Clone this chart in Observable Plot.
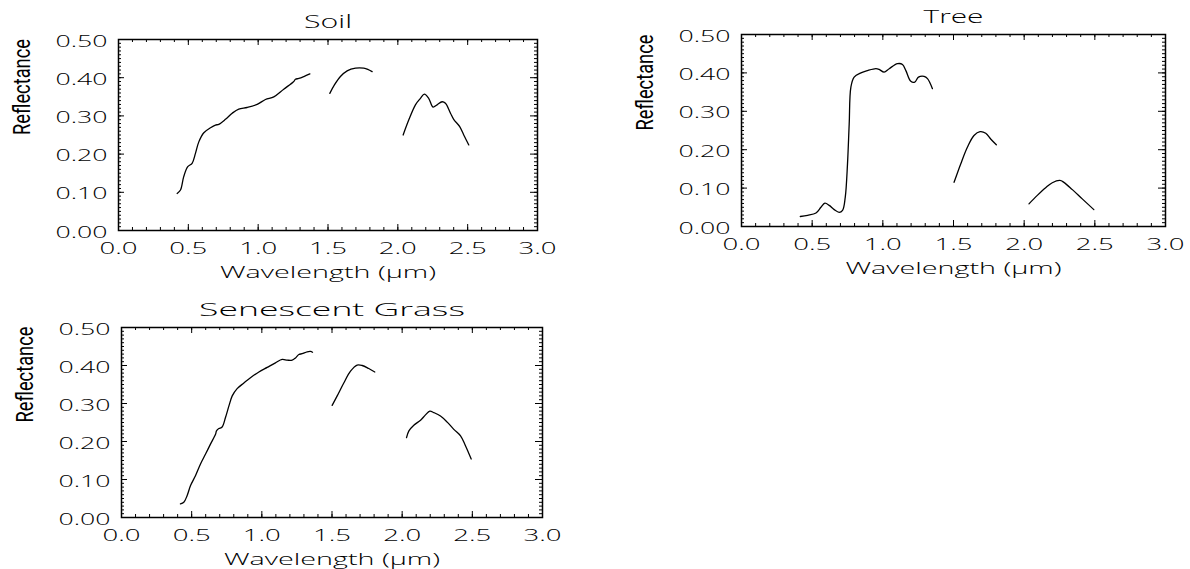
<!DOCTYPE html>
<html><head><meta charset="utf-8">
<script src="https://cdn.jsdelivr.net/npm/d3@7"></script>
<script src="https://cdn.jsdelivr.net/npm/@observablehq/plot@0.6"></script>
<style>
body{margin:0;background:#fff;width:1190px;height:569px;position:relative;overflow:hidden;}
.panel{position:absolute;}
</style></head><body>
<div id="soil" class="panel" style="left:0;top:0"></div>
<div id="tree" class="panel" style="left:600px;top:0"></div>
<div id="grass" class="panel" style="left:0;top:290px"></div>
<script>
// Tick values
const xTicks = [0, 0.5, 1.0, 1.5, 2.0, 2.5, 3.0];
const yTicks = [0, 0.1, 0.2, 0.3, 0.4, 0.5];
const xLabel = "Wavelength (μm)";
const yLabel = "Reflectance";

// Soil
const soilWave = [0.420,0.444,0.467,0.496,0.527,0.551,0.575,0.611,0.659,0.694,0.718,0.766,0.814,0.861,0.921,0.993,1.052,1.112,1.183,1.255,1.267,1.291,1.327,1.370,
  1.513,1.546,1.589,1.637,1.697,1.756,1.785,1.816,
  2.038,2.078,2.126,2.162,2.190,2.221,2.252,2.281,2.317,2.341,2.377,2.400,2.443,2.472,2.508];
const soilRefl = [0.097,0.106,0.141,0.167,0.176,0.202,0.232,0.256,0.269,0.276,0.278,0.291,0.307,0.318,0.322,0.330,0.343,0.350,0.370,0.390,0.396,0.398,0.403,0.410,
  0.359,0.381,0.403,0.418,0.425,0.425,0.422,0.416,
  0.250,0.289,0.329,0.346,0.357,0.346,0.323,0.329,0.337,0.333,0.307,0.291,0.272,0.250,0.224];
const soilBand = [...Array(24).fill("a"), ...Array(8).fill("b"), ...Array(15).fill("c")];

// Tree
const treeWave = [0.416,0.468,0.527,0.562,0.590,0.621,0.656,0.691,0.715,0.734,0.750,0.762,0.774,0.797,0.845,0.892,0.951,0.974,1.009,1.045,1.104,1.139,1.163,1.198,1.226,1.252,1.292,1.316,1.351,
  1.504,1.551,1.599,1.645,1.688,1.728,1.763,1.803,
  2.034,2.093,2.152,2.199,2.253,2.281,2.341,2.411,2.493];
const treeRefl = [0.026,0.029,0.035,0.050,0.061,0.055,0.044,0.037,0.042,0.076,0.163,0.267,0.363,0.389,0.400,0.406,0.411,0.409,0.402,0.411,0.424,0.422,0.406,0.378,0.376,0.389,0.391,0.385,0.359,
  0.115,0.163,0.207,0.237,0.247,0.243,0.228,0.213,
  0.059,0.081,0.101,0.114,0.120,0.115,0.096,0.072,0.044];
const treeBand = [...Array(29).fill("a"), ...Array(8).fill("b"), ...Array(9).fill("c")];

// Senescent grass
const grassWave = [0.420,0.444,0.468,0.492,0.527,0.563,0.599,0.634,0.670,0.677,0.694,0.717,0.741,0.765,0.789,0.824,0.872,0.919,0.979,1.038,1.097,1.145,1.181,1.216,1.240,1.264,1.287,1.323,1.347,1.361,
  1.501,1.537,1.584,1.632,1.679,1.715,1.762,1.805,
  2.031,2.048,2.083,2.131,2.166,2.197,2.226,2.273,2.321,2.368,2.416,2.451,2.492];
const grassRefl = [0.036,0.040,0.058,0.084,0.110,0.141,0.167,0.193,0.219,0.228,0.234,0.238,0.263,0.293,0.320,0.339,0.354,0.368,0.383,0.395,0.407,0.416,0.414,0.414,0.420,0.429,0.431,0.436,0.437,0.435,
  0.295,0.320,0.354,0.385,0.401,0.400,0.392,0.383,
  0.210,0.228,0.243,0.256,0.270,0.280,0.276,0.267,0.251,0.232,0.215,0.189,0.154];
const grassBand = [...Array(30).fill("a"), ...Array(8).fill("b"), ...Array(13).fill("c")];

const titleLen = {"Soil": 48, "Tree": 60, "Senescent Grass": 266};
const thinFont = "'Open Sans', Lato, 'DejaVu Sans', sans-serif";

function fitTexts(svg) {
  svg.querySelectorAll("text").forEach(t => {
    const s = t.textContent.trim();
    let L = null;
    if (s === xLabel) L = 216;
    else if (s === yLabel) L = 96;
    else if (titleLen[s]) L = titleLen[s];
    else if (/^[0-9.]+$/.test(s)) L = [...s].reduce((a, c) => a + (c === "." ? 10 : 14), 0);
    if (L) { t.setAttribute("textLength", L); t.setAttribute("lengthAdjust", "spacingAndGlyphs"); }
  });
}

function panel(id, {title, wave, refl, band, width, height, ml, mr, mt, mb}) {
  const data = wave.map((w, i) => ({w, r: refl[i], b: band[i]}));
  const fh = height - mt - mb, fw = width - ml - mr;
  const xMinor = d3.range(0, 3.0001, 0.1);
  const yMinor = d3.range(0, 0.5001, 0.01);
  const chart = Plot.plot({
    width, height, marginLeft: ml, marginRight: mr, marginTop: mt, marginBottom: mb,
    x: {domain: [0, 3]}, y: {domain: [0, 0.5]},
    style: {fontFamily: thinFont, fontWeight: 300, fontSize: "16px", color: "#000", background: "#fff", overflow: "visible"},
    marks: [
      Plot.ruleX(xMinor, {insetTop: fh - 3, stroke: "#000", strokeWidth: 1}),
      Plot.ruleX(xMinor, {insetBottom: fh - 3, stroke: "#000", strokeWidth: 1}),
      Plot.ruleX(xTicks, {insetTop: fh - 6, stroke: "#000", strokeWidth: 1}),
      Plot.ruleX(xTicks, {insetBottom: fh - 6, stroke: "#000", strokeWidth: 1}),
      Plot.ruleY(yMinor, {insetRight: fw - 3, stroke: "#000", strokeWidth: 1}),
      Plot.ruleY(yMinor, {insetLeft: fw - 3, stroke: "#000", strokeWidth: 1}),
      Plot.ruleY(yTicks, {insetRight: fw - 6, stroke: "#000", strokeWidth: 1}),
      Plot.ruleY(yTicks, {insetLeft: fw - 7, stroke: "#000", strokeWidth: 1}),
      Plot.frame({stroke: "#000", strokeWidth: 1.5}),
      Plot.line(data, {x: "w", y: "r", z: "b", stroke: "#000", strokeWidth: 1.3, curve: "catmull-rom"}),
      Plot.axisX({ticks: xTicks, tickSize: 0, tickPadding: 12, tickFormat: d3.format(".1f"), label: null, fontWeight: 300}),
      Plot.axisY({ticks: yTicks, tickSize: 0, tickPadding: 11, tickFormat: d3.format(".2f"), label: null, dy: 2, fontWeight: 300}),
      Plot.text([title], {text: d => d, frameAnchor: "top", dy: -17, lineAnchor: "middle", fontSize: 18, fontWeight: 300}),
      Plot.text([xLabel], {text: d => d, frameAnchor: "bottom", dy: 42, lineAnchor: "middle", fontSize: 16, fontWeight: 300}),
      Plot.text([yLabel], {text: d => d, frameAnchor: "left", dx: -96, rotate: -90, lineAnchor: "middle",
        fontSize: 24, fontWeight: 400, fontFamily: "'Liberation Sans Narrow', Roboto, sans-serif"})
    ]
  });
  fitTexts(chart);
  document.getElementById(id).appendChild(chart);
}

panel("soil", {title: "Soil", wave: soilWave, refl: soilRefl, band: soilBand,
  width: 580, height: 290, ml: 118, mr: 43, mt: 39, mb: 60});
panel("tree", {title: "Tree", wave: treeWave, refl: treeRefl, band: treeBand,
  width: 590, height: 290, ml: 141, mr: 25, mt: 34, mb: 64});
panel("grass", {title: "Senescent Grass", wave: grassWave, refl: grassRefl, band: grassBand,
  width: 580, height: 279, ml: 121, mr: 38, mt: 37, mb: 52});
</script>
</body></html>
